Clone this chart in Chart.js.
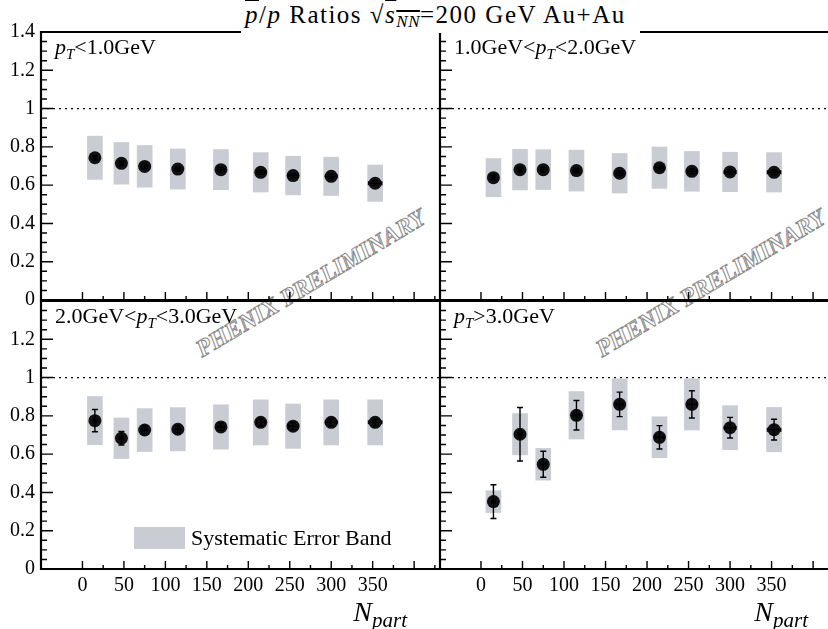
<!DOCTYPE html>
<html>
<head>
<meta charset="utf-8">
<script src="https://cdn.jsdelivr.net/npm/chart.js@4.4.1/dist/chart.umd.min.js"></script>
<style>
  body { margin: 0; width: 828px; height: 629px; overflow: hidden; background: #fff; position: relative;
         font-family: "Liberation Serif", "DejaVu Serif", serif; color: #000; }
  canvas { position: absolute; z-index: 1; }
  #tl { left: 0; top: 12px; }
  #tr { left: 420px; top: 12px; }
  #bl { left: 0; top: 281px; }
  #br { left: 420px; top: 281px; }
  .txt { position: absolute; z-index: 3; white-space: nowrap; font-size: 22px; line-height: 22px; }
  .txt sub { font-size: 15px; vertical-align: -5px; line-height: 0; }
  #title { position: absolute; z-index: 2; left: 241px; top: 0; width: 399px; height: 33px; background: #fff;
           font-size: 25px; line-height: 25px; white-space: nowrap; letter-spacing: 1.5px; }
  #title span.in { position: absolute; left: 4px; top: 2px; }
  #title sub { font-size: 17px; vertical-align: -4px; line-height: 0; letter-spacing: 0.5px; }
  .ol { text-decoration: overline; }
  .wm { position: absolute; z-index: 0; font-size: 24px; line-height: 24px; font-weight: bold; font-style: italic;
        color: #fff; -webkit-text-stroke: 1px #8a8a8a; white-space: nowrap;
        transform-origin: 0 100%; transform: rotate(-31deg); }
  .npart { position: absolute; z-index: 3; font-size: 28px; line-height: 28px; font-style: italic; white-space: nowrap; }
  .npart sub { font-size: 21px; vertical-align: -6px; line-height: 0; }
  #legbox { position: absolute; z-index: 3; left: 134px; top: 527px; width: 51px; height: 22px; background: #c9ccd3; }
</style>
</head>
<body>
<div class="wm" style="left:204px; top:337px;">PHENIX PRELIMINARY</div>
<div class="wm" style="left:604px; top:337px;">PHENIX PRELIMINARY</div>

<canvas id="tl" width="441" height="308"></canvas>
<canvas id="tr" width="410" height="308"></canvas>
<canvas id="bl" width="441" height="348"></canvas>
<canvas id="br" width="410" height="348"></canvas>

<div id="title"><span class="in"><i class="ol">p</i>/<i>p</i> Ratios &radic;<span class="ol"><i>s</i><sub><i>NN</i></sub></span>=200 GeV Au+Au</span></div>

<div class="txt" style="left:55px; top:36px;"><i>p</i><sub><i>T</i></sub>&lt;1.0GeV</div>
<div class="txt" style="left:454px; top:36px;">1.0GeV&lt;<i>p</i><sub><i>T</i></sub>&lt;2.0GeV</div>
<div class="txt" style="left:55px; top:305px;">2.0GeV&lt;<i>p</i><sub><i>T</i></sub>&lt;3.0GeV</div>
<div class="txt" style="left:454px; top:305px;"><i>p</i><sub><i>T</i></sub>&gt;3.0GeV</div>

<div id="legbox"></div>
<div class="txt" style="left:191px; top:527px;">Systematic Error Band</div>

<div class="npart" style="right:421px; top:598px;">N<sub>part</sub></div>
<div class="npart" style="right:20px; top:598px;">N<sub>part</sub></div>

<script>
// centrality bins (N_part) and their small horizontal errors
const npart = [15, 47, 75, 115, 167, 215, 254, 300, 353];
const npartErr = [2, 2, 3, 3, 4, 5, 6, 7, 8];

// pT < 1.0 GeV
const ratioPt01 = [0.743, 0.714, 0.698, 0.684, 0.681, 0.667, 0.650, 0.646, 0.610];
const statPt01 = [0.012, 0.012, 0.012, 0.011, 0.011, 0.011, 0.011, 0.011, 0.011];
const sysPt01 = [0.113, 0.109, 0.109, 0.105, 0.105, 0.103, 0.101, 0.100, 0.095];

// 1.0 < pT < 2.0 GeV
const ratioPt12 = [0.639, 0.681, 0.681, 0.676, 0.662, 0.691, 0.672, 0.669, 0.667];
const statPt12 = [0.013, 0.012, 0.012, 0.012, 0.012, 0.012, 0.012, 0.012, 0.012];
const sysPt12 = [0.100, 0.106, 0.104, 0.107, 0.103, 0.108, 0.104, 0.103, 0.103];

// 2.0 < pT < 3.0 GeV
const ratioPt23 = [0.775, 0.683, 0.726, 0.730, 0.742, 0.766, 0.746, 0.766, 0.766];
const statPt23 = [0.058, 0.035, 0.020, 0.020, 0.018, 0.018, 0.018, 0.017, 0.017];
const sysPt23 = [0.126, 0.106, 0.112, 0.113, 0.116, 0.118, 0.116, 0.118, 0.118];

// pT > 3.0 GeV
const ratioPt3 = [0.352, 0.704, 0.547, 0.803, 0.860, 0.688, 0.860, 0.738, 0.728];
const statPt3 = [0.088, 0.140, 0.068, 0.077, 0.064, 0.061, 0.071, 0.054, 0.054];
const sysPt3 = [0.057, 0.108, 0.083, 0.124, 0.134, 0.107, 0.134, 0.115, 0.116];

// axis ticks
const xTicks = [0, 50, 100, 150, 200, 250, 300, 350];
const yTicksTop = [0, 0.2, 0.4, 0.6, 0.8, 1.0, 1.2, 1.4];
const yTicksBottom = [0, 0.2, 0.4, 0.6, 0.8, 1.0, 1.2];

const tickFont = { family: '"Liberation Serif", serif', size: 20 };

// frame, inner ticks, dotted unity line and error bars (ROOT look)
const framePlugin = {
  id: 'frame',
  beforeDatasetsDraw(chart) {
    const { ctx, chartArea: a, scales: { y } } = chart;
    const y1 = y.getPixelForValue(1);
    ctx.save();
    ctx.strokeStyle = '#000';
    ctx.lineWidth = 1.3;
    ctx.setLineDash([2, 4]);
    ctx.beginPath();
    ctx.moveTo(a.left, y1);
    ctx.lineTo(a.right, y1);
    ctx.stroke();
    ctx.restore();
  },
  afterDatasetsDraw(chart) {
    const { ctx, chartArea: a, scales: { x, y } } = chart;
    const pts = chart.data.datasets[0];
    ctx.save();
    ctx.strokeStyle = '#000';
    ctx.lineWidth = 1.4;
    // error bars
    pts.data.forEach((p, i) => {
      const px = x.getPixelForValue(p.x);
      const py = y.getPixelForValue(p.y);
      const yHi = y.getPixelForValue(p.y + pts.statErr[i]);
      const yLo = y.getPixelForValue(p.y - pts.statErr[i]);
      const xLo = x.getPixelForValue(p.x - pts.xErr[i]);
      const xHi = x.getPixelForValue(p.x + pts.xErr[i]);
      ctx.beginPath();
      ctx.moveTo(px, yHi); ctx.lineTo(px, yLo);
      ctx.moveTo(px - 3, yHi); ctx.lineTo(px + 3, yHi);
      ctx.moveTo(px - 3, yLo); ctx.lineTo(px + 3, yLo);
      ctx.moveTo(xLo, py); ctx.lineTo(xHi, py);
      ctx.moveTo(xLo, py - 2); ctx.lineTo(xLo, py + 2);
      ctx.moveTo(xHi, py - 2); ctx.lineTo(xHi, py + 2);
      ctx.stroke();
    });
    // inner ticks
    ctx.beginPath();
    for (let k = 0; k <= 28; k++) {
      const py = y.getPixelForValue(k * 0.05);
      const len = k % 4 === 0 ? 12 : 6;
      ctx.moveTo(a.left, py); ctx.lineTo(a.left + len, py);
    }
    for (let v = 0; x.getPixelForValue(v) < a.right - 1; v += 25) {
      const px = x.getPixelForValue(v);
      const len = v % 50 === 0 ? 8 : 4;
      ctx.moveTo(px, a.bottom); ctx.lineTo(px, a.bottom - len);
    }
    ctx.stroke();
    // frame
    ctx.lineWidth = 2.2;
    ctx.beginPath();
    ctx.moveTo(a.right, a.top); ctx.lineTo(a.left, a.top);
    ctx.lineTo(a.left, a.bottom); ctx.lineTo(a.right, a.bottom);
    ctx.stroke();
    ctx.restore();
  }
};

function makePanel(id, ratio, stat, sys, cfg) {
  new Chart(document.getElementById(id), {
    type: 'bar',
    plugins: [framePlugin],
    data: {
      datasets: [{
        type: 'scatter',
        data: npart.map((n, i) => ({ x: n, y: ratio[i] })),
        statErr: stat,
        xErr: npartErr,
        backgroundColor: '#111',
        borderWidth: 0,
        pointRadius: 6.5,
        pointHoverRadius: 6.5
      }, {
        type: 'bar',
        data: npart.map((n, i) => ({ x: n, y: [ratio[i] - sys[i], ratio[i] + sys[i]] })),
        backgroundColor: '#c9ccd3',
        borderWidth: 0,
        barThickness: 15,
        grouped: false
      }]
    },
    options: {
      responsive: false,
      animation: false,
      events: [],
      layout: { padding: cfg.padding, autoPadding: false },
      plugins: { legend: { display: false }, tooltip: { enabled: false } },
      scales: {
        x: {
          type: 'linear',
          min: -20,
          max: cfg.xMax,
          grid: { display: false, drawTicks: false },
          border: { display: false },
          afterBuildTicks: s => { s.ticks = xTicks.map(v => ({ value: v })); },
          afterFit: s => { s.height = cfg.xLabels ? 60 : 20; },
          ticks: { display: cfg.xLabels, color: '#000', font: tickFont, padding: 5, maxRotation: 0 }
        },
        y: {
          type: 'linear',
          min: 0,
          max: 1.4,
          grid: { display: false, drawTicks: false },
          border: { display: false },
          afterBuildTicks: s => { s.ticks = cfg.yTicks.map(v => ({ value: v })); },
          afterFit: s => { s.width = cfg.yLabels ? 41 : 0; },
          ticks: {
            display: cfg.yLabels, color: '#000', font: tickFont, padding: 6,
            callback: v => String(Math.round(v * 10) / 10)
          }
        }
      }
    }
  });
}

makePanel('tl', ratioPt01, statPt01, sysPt01,
  { padding: { top: 20, right: 2, bottom: 0, left: 0 }, xMax: 400, xLabels: false, yLabels: true, yTicks: yTicksTop });
makePanel('tr', ratioPt12, statPt12, sysPt12,
  { padding: { top: 20, right: 0, bottom: 0, left: 20 }, xMax: 391, xLabels: false, yLabels: false, yTicks: yTicksTop });
makePanel('bl', ratioPt23, statPt23, sysPt23,
  { padding: { top: 20, right: 2, bottom: 0, left: 0 }, xMax: 400, xLabels: true, yLabels: true, yTicks: yTicksBottom });
makePanel('br', ratioPt3, statPt3, sysPt3,
  { padding: { top: 20, right: 0, bottom: 0, left: 20 }, xMax: 391, xLabels: true, yLabels: false, yTicks: yTicksBottom });
</script>
</body>
</html>
